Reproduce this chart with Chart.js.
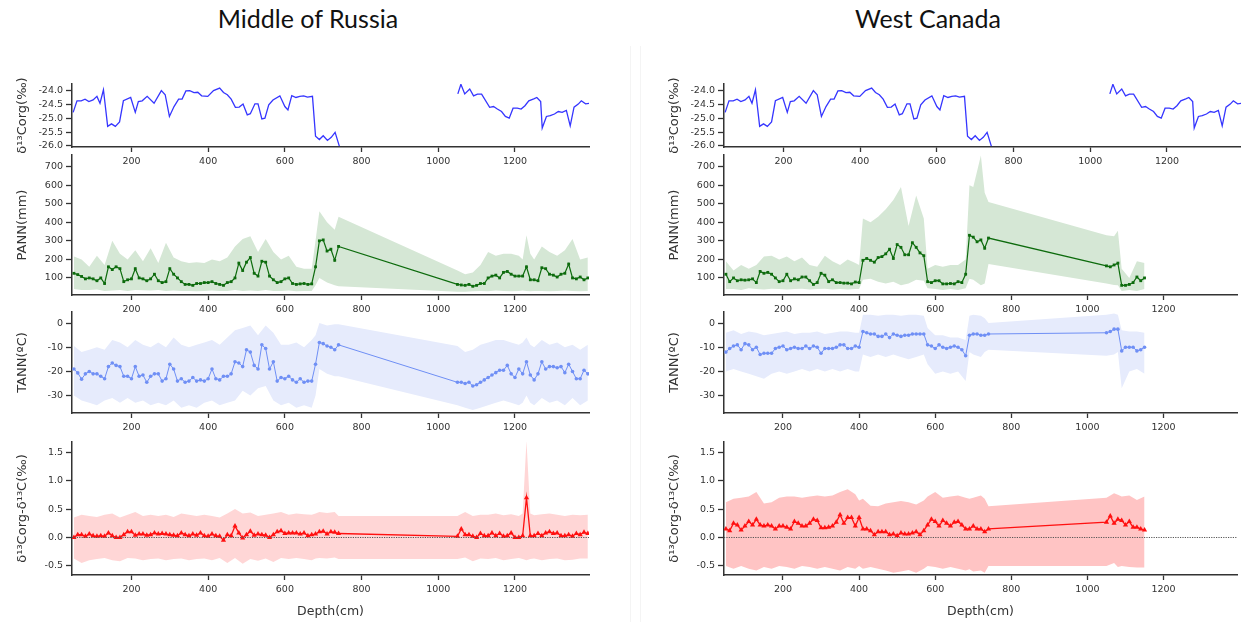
<!DOCTYPE html>
<html>
<head>
<meta charset="utf-8">
<script src="https://cdn.jsdelivr.net/npm/chart.js@4.4.1/dist/chart.umd.min.js"></script>
<style>
  body { margin: 0; background: #fff; width: 1242px; height: 622px; position: relative; overflow: hidden; }
  canvas { position: absolute; }
  .head { position: absolute; top: 3px; width: 616px; text-align: center; font: 25px Lato, sans-serif; color: #111; }
  .sep { position: absolute; background: #f4f4f4; }
</style>
</head>
<body>
<div class="head" style="left:0">Middle of Russia</div>
<div class="head" style="left:620px">West Canada</div>
<div class="sep" style="left:630px;top:46px;width:1px;height:576px"></div>
<div class="sep" style="left:640px;top:46px;width:1px;height:576px"></div>
<script>
// ---- tick labels ----
const depthTicks = [200, 400, 600, 800, 1000, 1200];
const corgTicks = [-26, -25.5, -25, -24.5, -24];
const pannTicks = [100, 200, 300, 400, 500, 600, 700];
const tannTicks = [-30, -20, -10, 0];
const diffTicks = [-0.5, 0, 0.5, 1, 1.5];

// ---- d13Corg (same record drawn in both columns), null = core gap ----
const corgDepth = [48,58,69,79,89,100,110,118,127,138,148,158,169,179,198,210,218,228,241,259,
  278,288,299,311,323,332,342,352,363,373,383,399,414,430,440,450,460,471,481,491,
  502,510,522,530,540,548,558,569,587,600,608,618,629,639,649,659,672,680,690,700,
  711,721,731,742,900,
  1051,1059,1069,1082,1092,1102,1113,1134,1144,1154,1165,1175,1185,1195,1206,1216,1226,1236,1249,1257,
  1267,1271,1282,1292,1303,1313,1323,1334,1344,1354,1365,1373,1384,1394];
const corgVal = [-24.78,-24.36,-24.36,-24.3,-24.39,-24.33,-24.2,-24.45,-23.96,-25.29,
  -25.2,-25.29,-25.13,-24.36,-24.24,-24.78,-24.39,-24.36,-24.2,-24.45,
  -23.99,-24.14,-24.93,-24.57,-24.3,-24.3,-24.0,-23.99,-24.06,-24.05,
  -24.18,-24.2,-23.99,-23.9,-24.06,-24.14,-24.3,-24.6,-24.59,-24.48,
  -24.87,-24.83,-24.47,-24.47,-25.02,-24.99,-24.51,-24.33,-24.18,-24.57,
  -24.69,-24.17,-24.24,-24.2,-24.18,-24.23,-24.2,-25.65,-25.77,-25.63,
  -25.8,-25.69,-25.51,-26.01,null,
  -24.11,-23.76,-24.11,-23.93,-24.18,-24.12,-24.12,-24.6,-24.57,-24.66,
  -24.75,-24.93,-24.99,-24.63,-24.63,-24.66,-24.54,-24.36,-24.29,-24.24,
  -24.39,-25.35,-24.93,-24.9,-24.84,-24.75,-24.78,-24.71,-25.27,-24.59,
  -24.48,-24.36,-24.47,-24.45];

// ---- Middle of Russia ----
const ruDepth = [50,60,70,80,90,100,110,120,130,140,150,160,170,180,190,200,210,220,230,240,
  250,260,270,280,290,300,310,320,330,340,350,360,370,380,390,400,410,420,430,440,
  450,460,470,480,490,500,510,520,530,540,550,560,570,580,590,600,610,620,630,640,
  650,660,670,680,690,700,710,720,730,740,
  1050,1060,1070,1080,1090,1100,1110,1120,1130,1140,1150,1160,1170,1180,1190,1200,1210,1220,1230,1240,
  1250,1260,1270,1280,1290,1300,1310,1320,1330,1340,1350,1360,1370,1380,1390];
const ruPann = [125,118,108,95,100,95,85,100,70,160,
  145,160,150,80,90,95,150,100,95,85,
  95,120,85,75,80,150,120,100,80,65,
  65,60,70,70,75,75,80,70,65,60,
  75,80,100,180,140,185,210,125,110,190,
  185,110,90,75,80,95,100,70,65,68,
  70,65,68,160,300,305,245,255,195,270,
  65,62,60,65,55,60,70,70,100,110,
  115,100,130,135,120,110,110,110,160,90,
  90,85,155,150,120,115,105,120,125,175,
  100,95,105,90,100];
const ruTann = [-19,-20.6,-23.2,-21,-20,-21,-21,-22,-23,-18,
  -16.5,-17.5,-18,-22,-22,-23,-18,-22,-21.5,-24.5,
  -22,-21,-21,-24,-23,-17,-19,-24,-23,-24.5,
  -24,-22.5,-24,-23.5,-24,-23,-19,-23,-23.5,-22,
  -22,-21,-16,-16.5,-18,-11,-12,-17.5,-19,-9,
  -10.5,-19,-16,-24,-22.5,-23,-22,-23.5,-24.5,-23,
  -24.5,-24,-24,-17,-8,-8.5,-9.5,-10,-11,-9,
  -24.5,-24.5,-25,-24.5,-26,-25.5,-24.5,-23.5,-22.5,-21.5,
  -20.5,-19.5,-19.5,-17.5,-21,-22.5,-19,-21,-16,-21.5,
  -23.5,-21,-16,-19,-18,-18,-18.5,-18,-20.5,-17,
  -20,-23,-23,-19.5,-21];
const ruDiff = [0.0,0.05,0.05,0.02,0.06,0.03,0.02,0.03,0.02,0.08,
  0.03,0.0,0.0,0.05,0.1,0.1,0.04,0.06,0.06,0.04,
  0.05,0.08,0.06,0.07,0.06,0.05,0.04,0.03,0.08,0.05,
  0.03,0.06,0.04,0.08,0.03,0.02,0.06,0.03,0.02,-0.05,
  0.05,0.03,0.2,0.08,-0.01,0.05,0.11,0.04,0.06,0.05,
  0.04,0.0,0.05,0.1,0.12,0.07,0.08,0.08,0.08,0.06,
  0.08,0.03,0.05,0.06,0.1,0.11,0.06,0.1,0.09,0.07,
  0.02,0.15,0.05,0.05,0.02,0.0,0.07,0.03,0.03,0.08,
  0.03,0.07,0.02,0.03,0.08,0.0,0.0,0.03,0.7,0.03,
  0.03,0.07,0.03,0.08,0.1,0.07,0.08,0.03,0.03,0.05,
  0.02,0.07,0.05,0.09,0.07];

// uncertainty envelopes (Russia)
const ruBandDepth = [50,70,90,110,130,150,170,190,210,230,250,270,290,310,330,350,370,390,410,430,
  450,470,490,510,530,550,570,590,610,630,650,670,680,690,710,730,740,
  1050,1070,1090,1110,1130,1150,1170,1190,1210,1220,1230,1240,1250,1270,1290,1310,1330,1350,1370,1390];
const ruPannHi = [215,200,160,220,170,300,230,200,250,190,260,180,290,210,190,180,185,180,200,190,
  210,270,310,325,240,310,240,200,220,160,150,150,300,460,400,360,430,
  140,120,130,170,240,220,230,230,220,200,330,230,200,270,240,220,250,310,200,210];
const ruPannLo = [40,35,35,38,30,32,35,30,35,33,32,35,30,32,30,30,28,30,32,30,
  30,35,30,32,30,35,30,30,32,28,30,30,60,100,75,60,55,
  25,25,28,30,28,32,30,28,30,32,30,28,30,30,28,30,32,30,28,30];
const ruTannHi = [-9.5,-12,-11,-10,-11,-7,-8,-10,-7,-9,-10,-8,-10,-6,-9,-10,-9,-8,-7,-9,
  -6,-3,-2,-1,-5,-1,-4,-9,-9,-8,-10,-7,-5,0,-1,-0.5,-0.5,
  -9.5,-12,-11,-9,-8,-7,-7,-8,-9,-8,-6,-9,-10,-7,-9,-8,-10,-9,-11,-9];
const ruTannLo = [-30,-32,-33,-34,-32,-31,-33,-31,-33,-32,-34,-33,-34,-32,-35,-34,-35,-33,-32,-34,
  -33,-32,-28,-30,-27,-26,-32,-34,-33,-35,-34,-35,-30,-19,-21,-22,-22,
  -34,-35,-36,-35,-34,-33,-32,-33,-34,-33,-30,-33,-34,-31,-33,-32,-34,-31,-34,-32];
const ruDiffHi = [0.35,0.4,0.38,0.36,0.4,0.42,0.35,0.4,0.45,0.38,0.4,0.38,0.4,0.36,0.42,0.4,0.38,0.4,0.38,0.35,
  0.42,0.5,0.42,0.44,0.38,0.4,0.42,0.45,0.4,0.42,0.41,0.4,0.42,0.45,0.43,0.45,0.38,
  0.38,0.45,0.38,0.4,0.4,0.42,0.39,0.41,0.38,0.42,1.7,0.42,0.39,0.41,0.42,0.4,0.38,0.4,0.39,0.4];
const ruDiffLo = [-0.37,-0.45,-0.4,-0.38,-0.36,-0.4,-0.42,-0.36,-0.37,-0.4,-0.38,-0.37,-0.4,-0.38,-0.37,-0.4,-0.38,-0.37,-0.4,-0.36,
  -0.45,-0.36,-0.46,-0.38,-0.41,-0.37,-0.43,-0.36,-0.38,-0.36,-0.38,-0.4,-0.37,-0.36,-0.37,-0.35,-0.38,
  -0.38,-0.35,-0.42,-0.37,-0.38,-0.36,-0.4,-0.38,-0.36,-0.38,-0.4,-0.38,-0.37,-0.4,-0.38,-0.37,-0.4,-0.39,-0.37,-0.37];

// ---- West Canada ----
const caDepth = [50,60,70,80,90,100,110,120,130,140,150,160,170,180,190,200,210,220,230,240,
  250,260,270,280,290,300,310,320,330,340,350,360,370,380,390,400,410,420,430,440,
  450,460,470,480,490,500,510,520,530,540,550,560,570,580,590,600,610,620,630,640,
  650,660,670,680,690,700,710,720,730,740,
  1050,1060,1070,1080,1090,1100,1110,1120,1130,1140,1150];
const caPann = [120,80,100,85,90,88,90,95,75,135,
  125,130,120,100,80,85,120,85,95,90,
  105,105,85,65,75,125,115,80,90,75,
  75,72,72,68,78,75,195,205,195,185,
  210,215,230,255,205,280,265,225,225,290,
  265,235,220,80,75,85,85,68,68,70,
  68,80,75,120,330,320,295,305,260,315,
  165,160,170,180,60,60,65,75,105,85,100];
const caTann = [-12,-10.5,-9.5,-9,-11,-8.5,-9,-11,-10,-13,
  -12.5,-12.5,-12.5,-10.5,-10,-9.5,-11,-10.5,-10,-10.5,
  -10.5,-9.5,-10.5,-9.5,-10,-12.5,-10.5,-10.5,-10.5,-10,
  -9,-9,-10.5,-10.5,-9.5,-10,-3.5,-4,-4.5,-4.5,
  -5.5,-5.5,-4.5,-6,-4.5,-5,-5.5,-5,-5,-4.5,
  -4.5,-4.5,-4.5,-9,-9.5,-10.5,-9,-10,-10.5,-10,
  -9.5,-10,-11,-13.5,-5,-4.5,-4.5,-5,-5,-4.5,
  -4,-3.5,-2.5,-2.5,-11.5,-10,-10,-10,-11.5,-11,-10];
const caDiff = [0.15,0.12,0.25,0.22,0.13,0.2,0.28,0.22,0.32,0.22,
  0.2,0.22,0.2,0.15,0.2,0.2,0.18,0.15,0.28,0.25,
  0.2,0.2,0.25,0.32,0.3,0.17,0.17,0.18,0.2,0.27,
  0.4,0.25,0.35,0.35,0.2,0.35,0.15,0.15,0.12,0.05,
  0.1,0.1,0.1,0.05,0.06,0.03,0.08,0.06,0.06,0.08,
  0.1,0.05,0.12,0.22,0.32,0.28,0.2,0.3,0.25,0.2,
  0.27,0.28,0.22,0.15,0.15,0.2,0.15,0.15,0.1,0.15,
  0.27,0.38,0.25,0.32,0.3,0.22,0.28,0.18,0.18,0.15,0.13];

// uncertainty envelopes (Canada)
const caBandDepth = [50,70,90,110,130,150,170,190,210,230,250,270,290,310,330,350,370,390,
  400,410,430,450,470,490,510,530,550,570,580,600,620,640,660,680,
  690,700,720,730,740,1050,1070,1080,1090,1110,1130,1150];
const caPannHi = [190,140,170,150,170,215,220,200,215,190,210,170,160,220,190,170,200,180,
  170,420,400,430,470,520,590,380,545,420,150,170,160,170,170,200,
  600,590,760,560,510,330,325,355,150,100,190,180];
const caPannLo = [40,40,35,45,40,38,42,40,38,40,42,38,40,42,38,40,38,40,
  40,90,95,80,70,80,60,70,90,85,45,40,35,40,35,45,
  95,90,60,70,175,70,62,60,30,35,30,40];
const caTannHi = [-4,-3,-4.5,-3.5,-4,-5,-4.5,-4,-3.5,-4.5,-4,-4,-3.5,-4.5,-4,-3.5,-3.5,-4,
  -4,3.5,3.5,3,3.5,3.5,3,3.5,3.5,3,-2,-5,-5,-6,-6,-7,
  3,3.5,3,2,0,3.5,4,3.5,-3,-3.5,-3.5,-4];
const caTannLo = [-20,-19,-20,-21,-22,-23,-21,-20,-21,-20,-19,-20,-19,-20,-19,-20,-19,-20,
  -20,-13,-14,-13,-14,-13,-14,-15,-14,-13,-17,-21,-20,-21,-20,-24,
  -12,-13,-14,-12,-11,-13.5,-13,-12,-27,-20,-19,-21];
const caDiffHi = [0.62,0.68,0.7,0.72,0.8,0.6,0.62,0.7,0.72,0.72,0.7,0.72,0.74,0.72,0.74,0.8,0.85,0.76,
  0.65,0.68,0.56,0.55,0.6,0.62,0.64,0.62,0.58,0.65,0.72,0.8,0.7,0.72,0.74,0.7,
  0.68,0.7,0.74,0.68,0.55,0.7,0.78,0.75,0.72,0.74,0.66,0.72];
const caDiffLo = [-0.5,-0.55,-0.5,-0.55,-0.58,-0.52,-0.55,-0.5,-0.52,-0.55,-0.5,-0.52,-0.55,-0.52,-0.55,-0.58,-0.52,-0.55,
  -0.5,-0.55,-0.52,-0.55,-0.58,-0.62,-0.6,-0.57,-0.62,-0.55,-0.5,-0.52,-0.55,-0.52,-0.55,-0.58,
  -0.56,-0.6,-0.58,-0.62,-0.5,-0.5,-0.45,-0.52,-0.5,-0.52,-0.53,-0.53];

// ---- drawing ----
const axisCol = '#333';
const tickFont = { family: 'DejaVu Sans', size: 9.5 };
const titleFont = { family: 'DejaVu Sans', size: 13 };

const cols = [{ x: 10, w: 589, padR: 10 }, { x: 662, w: 579, padR: 0 }];
const rows = [
  { top: 74, h: 98, xh: 25 },
  { top: 145, h: 175, xh: 25 },
  { top: 302, h: 136, xh: 25 },
  { top: 432, h: 189, xh: 46 }
];

function pts(xs, ys) {
  return xs.map((x, i) => ({ x: x, y: ys[i] }));
}

function series(xs, ys, color, style, radius, width) {
  return {
    data: pts(xs, ys), borderColor: color, backgroundColor: color,
    borderWidth: width, pointStyle: style, pointRadius: radius, pointBorderWidth: 0,
    tension: 0, spanGaps: false, fill: false, order: 0
  };
}

function band(xs, hi, lo, color) {
  return [
    { data: pts(xs, hi), borderWidth: 0, pointRadius: 0, backgroundColor: color, fill: '+1', tension: 0, order: 1 },
    { data: pts(xs, lo), borderWidth: 0, pointRadius: 0, fill: false, tension: 0, order: 2 }
  ];
}

const zeroLine = {
  id: 'zeroLine',
  afterDatasetsDraw(chart) {
    const a = chart.chartArea, y = chart.scales.y.getPixelForValue(0), ctx = chart.ctx;
    ctx.save();
    ctx.strokeStyle = '#555';
    ctx.lineWidth = 1;
    ctx.setLineDash([1.2, 1.2]);
    ctx.beginPath();
    ctx.moveTo(a.left, y);
    ctx.lineTo(a.right, y);
    ctx.stroke();
    ctx.restore();
  }
};

function panel(col, row, p) {
  const c = cols[col], r = rows[row];
  const cv = document.createElement('canvas');
  cv.width = c.w; cv.height = r.h;
  cv.style.left = c.x + 'px'; cv.style.top = r.top + 'px';
  document.body.appendChild(cv);
  new Chart(cv, {
    type: 'line',
    data: { datasets: p.datasets },
    options: {
      responsive: false, animation: false, events: [],
      layout: { padding: { top: 10, right: c.padR, left: 0, bottom: 0 } },
      plugins: { legend: { display: false }, tooltip: { enabled: false } },
      scales: {
        x: {
          type: 'linear', min: 45, max: 1393,
          afterBuildTicks: s => { s.ticks = depthTicks.map(v => ({ value: v })); },
          afterFit: s => { s.height = r.xh; },
          grid: { drawOnChartArea: false, tickLength: 5, tickColor: axisCol, tickWidth: 1.3 },
          border: { color: axisCol, width: 1.5 },
          ticks: { font: tickFont, color: '#333', padding: 4, maxRotation: 0, autoSkip: false,
            callback: v => String(v) },
          title: p.xTitle ? { display: true, text: p.xTitle, color: '#333',
            font: { family: 'DejaVu Sans', size: 12.5 }, padding: { top: 0, bottom: 2 } } : { display: false }
        },
        y: {
          type: 'linear', min: p.min, max: p.max,
          afterBuildTicks: s => { s.ticks = p.ticks.map(v => ({ value: v })); },
          afterFit: s => { s.width = 62; },
          grid: { drawOnChartArea: false, tickLength: 6, tickColor: axisCol, tickWidth: 1.3 },
          border: { color: axisCol, width: 1.5 },
          ticks: { font: tickFont, color: '#333', padding: 3, autoSkip: false,
            callback: v => p.dec ? v.toFixed(p.dec) : String(v) },
          title: { display: true, text: p.yTitle, color: '#333', font: titleFont, padding: { top: 5, bottom: 0 } }
        }
      }
    },
    plugins: p.zero ? [zeroLine] : []
  });
}

const corgBlue = '#3535ff';
const pannGreen = '#0d6b0d', pannBand = '#d5e7d5';
const tannBlue = '#6f8ff5', tannBand = '#e6ebfc';
const diffRed = '#ff1010';

[0, 1].forEach(col => {
  panel(col, 0, {
    min: -26.04, max: -23.75, ticks: corgTicks, dec: 1, yTitle: 'δ¹³Corg(‰)',
    datasets: [series(corgDepth, corgVal, corgBlue, 'circle', 0, 1.3)]
  });
});

panel(0, 1, {
  min: 8, max: 763, ticks: pannTicks, yTitle: 'PANN(mm)',
  datasets: [series(ruDepth, ruPann, pannGreen, 'rect', 2, 1.2)].concat(band(ruBandDepth, ruPannHi, ruPannLo, pannBand))
});
panel(0, 2, {
  min: -37.2, max: 4.6, ticks: tannTicks, yTitle: 'TANN(ºC)',
  datasets: [series(ruDepth, ruTann, tannBlue, 'circle', 1.8, 1)].concat(band(ruBandDepth, ruTannHi, ruTannLo, tannBand))
});
panel(0, 3, {
  min: -0.66, max: 1.68, ticks: diffTicks, dec: 1, yTitle: 'δ¹³Corg-δ¹³C(‰)', xTitle: 'Depth(cm)', zero: true,
  datasets: [series(ruDepth, ruDiff, diffRed, 'triangle', 3, 1.3)].concat(band(ruBandDepth, ruDiffHi, ruDiffLo, '#ffd6d6'))
});

panel(1, 1, {
  min: 8, max: 763, ticks: pannTicks, yTitle: 'PANN(mm)',
  datasets: [series(caDepth, caPann, pannGreen, 'rect', 2, 1.2)].concat(band(caBandDepth, caPannHi, caPannLo, pannBand))
});
panel(1, 2, {
  min: -37.2, max: 4.6, ticks: tannTicks, yTitle: 'TANN(ºC)',
  datasets: [series(caDepth, caTann, tannBlue, 'circle', 1.8, 1)].concat(band(caBandDepth, caTannHi, caTannLo, tannBand))
});
panel(1, 3, {
  min: -0.66, max: 1.68, ticks: diffTicks, dec: 1, yTitle: 'δ¹³Corg-δ¹³C(‰)', xTitle: 'Depth(cm)', zero: true,
  datasets: [series(caDepth, caDiff, diffRed, 'triangle', 3, 1.3)].concat(band(caBandDepth, caDiffHi, caDiffLo, '#ffc4c4'))
});
</script>
</body>
</html>
